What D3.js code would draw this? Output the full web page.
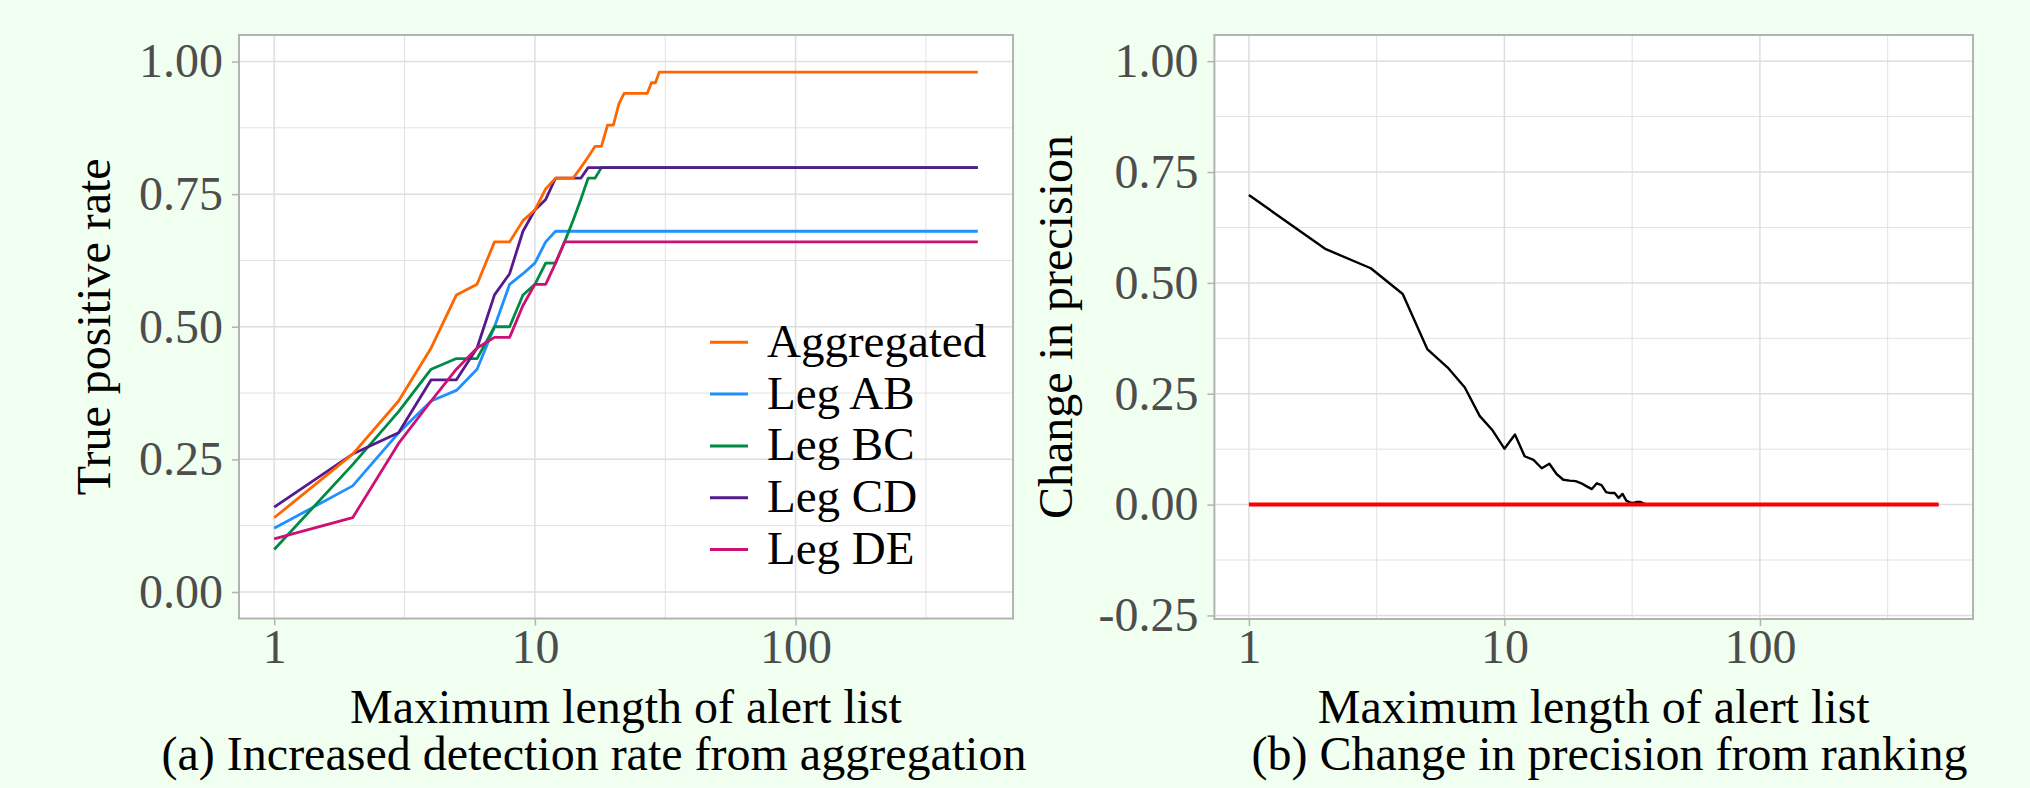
<!DOCTYPE html>
<html>
<head>
  <meta charset="utf-8">
  <script src="https://d3js.org/d3.v7.min.js"></script>
  <style>
    body { margin: 0; background: #f0fff0; }
    svg { display: block; font-family: "Liberation Serif", "Times New Roman", serif; }
  </style>
</head>
<body>
  <svg id="chart"></svg>
  <script>
    // panel (a): true positive rate by maximum alert list length (x = 1..30, then 500)
    var alertLengthA = [1, 2, 3, 4, 5, 6, 7, 8, 9, 10, 11, 12, 13, 14, 15, 16, 17, 18, 19, 20,
                        21, 22, 23, 24, 25, 26, 27, 28, 29, 30, 500];
    var aggregated = [.14, .26, .36, .46, .56, .58, .66, .66, .70, .72, .76, .78, .78, .78, .80, .82, .84, .84, .88, .88,
                      .92, .94, .94, .94, .94, .94, .94, .96, .96, .98, .98];
    var legAB = [.12, .20, .30, .36, .38, .42, .50, .58, .60, .62, .66, .68, .68, .68, .68, .68, .68, .68, .68, .68,
                 .68, .68, .68, .68, .68, .68, .68, .68, .68, .68, .68];
    var legBC = [.08, .24, .34, .42, .44, .44, .50, .50, .56, .58, .62, .62, .66, .70, .74, .78, .78, .80, .80, .80,
                 .80, .80, .80, .80, .80, .80, .80, .80, .80, .80, .80];
    var legCD = [.16, .26, .30, .40, .40, .46, .56, .60, .68, .72, .74, .78, .78, .78, .78, .80, .80, .80, .80, .80,
                 .80, .80, .80, .80, .80, .80, .80, .80, .80, .80, .80];
    var legDE = [.10, .14, .28, .36, .42, .46, .48, .48, .54, .58, .58, .62, .66, .66, .66, .66, .66, .66, .66, .66,
                 .66, .66, .66, .66, .66, .66, .66, .66, .66, .66, .66];
    var seriesNames = ["Aggregated", "Leg AB", "Leg BC", "Leg CD", "Leg DE"];
    var seriesColors = ["#ff6600", "#1e90ff", "#008b45", "#551a8b", "#cd1076"];
    // drawing order: legs first, Aggregated on top
    var drawOrder = [1, 2, 3, 4, 0];

    // panel (b): change in precision (x = 1..36, then 500)
    var alertLengthB = [1, 2, 3, 4, 5, 6, 7, 8, 9, 10, 11, 12, 13, 14, 15, 16, 17, 18, 19, 20,
                        21, 22, 23, 24, 25, 26, 27, 28, 29, 30, 31, 32, 33, 34, 35, 36, 500];
    var precisionChange = [.698, .576, .533, .475, .350, .309, .264, .200, .167, .126,
                           .158, .109, .101, .082, .092, .069, .056, .054, .053, .048,
                           .041, .035, .048, .044, .028, .026, .026, .015, .024, .009,
                           .005, .004, .006, .006, .003, 0, 0];
    var zeroLineX = [1, 500];
    var zeroLineY = [0, 0];

    var xTicks = [1, 10, 100];
    var xMinor = [Math.sqrt(10), Math.sqrt(1000), Math.sqrt(100000)];
    var yTicksA = [0, 0.25, 0.5, 0.75, 1];
    var yMinorA = [0.125, 0.375, 0.625, 0.875];
    var yTicksB = [-0.25, 0, 0.25, 0.5, 0.75, 1];
    var yMinorB = [-0.125, 0.125, 0.375, 0.625, 0.875];

    var width = 2030, height = 788;
    var svg = d3.select("#chart").attr("width", width).attr("height", height);
    var xDomain = [Math.pow(10, -0.135), Math.pow(10, 2.834)];

    function drawPanel(p) {
      var x = d3.scaleLog().domain(xDomain).range([p.left, p.right]);
      var y = d3.scaleLinear().domain(p.yDomain).range([p.bottom, p.top]);
      var g = svg.append("g");

      g.append("rect")
        .attr("x", p.left).attr("y", p.top)
        .attr("width", p.right - p.left).attr("height", p.bottom - p.top)
        .attr("fill", "white");

      // grid lines
      g.selectAll(".ymin").data(p.yMinor).enter().append("line")
        .attr("x1", p.left).attr("x2", p.right)
        .attr("y1", function(d) { return y(d); }).attr("y2", function(d) { return y(d); })
        .attr("stroke", "#e2e2e2").attr("stroke-width", 1);
      g.selectAll(".xmin").data(xMinor).enter().append("line")
        .attr("y1", p.top).attr("y2", p.bottom)
        .attr("x1", function(d) { return x(d); }).attr("x2", function(d) { return x(d); })
        .attr("stroke", "#e2e2e2").attr("stroke-width", 1);
      g.selectAll(".ymaj").data(p.yTicks).enter().append("line")
        .attr("x1", p.left).attr("x2", p.right)
        .attr("y1", function(d) { return y(d); }).attr("y2", function(d) { return y(d); })
        .attr("stroke", "#dedede").attr("stroke-width", 1.5);
      g.selectAll(".xmaj").data(xTicks).enter().append("line")
        .attr("y1", p.top).attr("y2", p.bottom)
        .attr("x1", function(d) { return x(d); }).attr("x2", function(d) { return x(d); })
        .attr("stroke", "#dedede").attr("stroke-width", 1.5);

      // axes
      var yAxis = g.append("g")
        .attr("transform", "translate(" + p.left + ",0)")
        .call(d3.axisLeft(y).tickValues(p.yTicks).tickSize(7).tickPadding(9)
          .tickFormat(function(d) { return d.toFixed(2); }));
      var xAxis = g.append("g")
        .attr("transform", "translate(0," + p.bottom + ")")
        .call(d3.axisBottom(x).tickValues(xTicks).tickSize(7).tickPadding(3)
          .tickFormat(d3.format("d")));
      [yAxis, xAxis].forEach(function(a) {
        a.select(".domain").remove();
        a.selectAll("line").attr("stroke", "#b3b3b3").attr("stroke-width", 1.5);
        a.selectAll("text").attr("fill", "#4d4d4d").attr("font-size", 48)
          .attr("font-family", "Liberation Serif");
      });

      // titles
      svg.append("text")
        .attr("x", (p.left + p.right) / 2).attr("y", 723)
        .attr("text-anchor", "middle").attr("font-size", 48)
        .text("Maximum length of alert list");
      svg.append("text")
        .attr("x", p.captionX).attr("y", 770)
        .attr("text-anchor", "middle").attr("font-size", 48)
        .text(p.caption);
      svg.append("text")
        .attr("transform", "translate(" + p.titleX + "," + (p.top + p.bottom) / 2 + ") rotate(-90)")
        .attr("text-anchor", "middle").attr("font-size", 48)
        .text(p.yTitle);

      return { x: x, y: y, g: g, p: p };
    }

    function border(panel) {
      var p = panel.p;
      panel.g.append("rect")
        .attr("x", p.left).attr("y", p.top)
        .attr("width", p.right - p.left).attr("height", p.bottom - p.top)
        .attr("fill", "none").attr("stroke", "#b3b3b3").attr("stroke-width", 2);
    }

    // ---- panel (a)
    var a = drawPanel({
      left: 239, right: 1013, top: 35, bottom: 618.5,
      yDomain: [-0.05, 1.05], yTicks: yTicksA, yMinor: yMinorA,
      titleX: 110, yTitle: "True positive rate",
      captionX: 594, caption: "(a) Increased detection rate from aggregation"
    });
    var lineA = d3.line()
      .x(function(d) { return a.x(d[0]); })
      .y(function(d) { return a.y(d[1]); });
    var seriesA = [aggregated, legAB, legBC, legCD, legDE];
    drawOrder.forEach(function(i) {
      var pts = alertLengthA.map(function(v, j) { return [v, seriesA[i][j]]; });
      a.g.append("path").datum(pts)
        .attr("d", lineA)
        .attr("fill", "none")
        .attr("stroke", seriesColors[i])
        .attr("stroke-width", 2.8)
        .attr("stroke-linejoin", "round");
    });
    border(a);

    // legend
    var legend = a.g.append("g");
    seriesNames.forEach(function(name, i) {
      var ky = 342.3 + i * 51.8;
      legend.append("line")
        .attr("x1", 710).attr("x2", 748).attr("y1", ky).attr("y2", ky)
        .attr("stroke", seriesColors[i]).attr("stroke-width", 3);
      legend.append("text")
        .attr("x", 767).attr("y", ky + 14.5)
        .attr("font-size", 47).attr("fill", "black")
        .text(name);
    });

    // ---- panel (b)
    var b = drawPanel({
      left: 1214.4, right: 1973, top: 35, bottom: 619,
      yDomain: [-0.258, 1.059], yTicks: yTicksB, yMinor: yMinorB,
      titleX: 1072, yTitle: "Change in precision",
      captionX: 1609.5, caption: "(b) Change in precision from ranking"
    });
    var lineB = d3.line()
      .x(function(d) { return b.x(d[0]); })
      .y(function(d) { return b.y(d[1]); });
    b.g.append("path")
      .datum(alertLengthB.map(function(v, j) { return [v, precisionChange[j]]; }))
      .attr("d", lineB)
      .attr("fill", "none").attr("stroke", "black")
      .attr("stroke-width", 2.4).attr("stroke-linejoin", "round");
    b.g.append("path")
      .datum(zeroLineX.map(function(v, j) { return [v, zeroLineY[j]]; }))
      .attr("d", lineB)
      .attr("fill", "none").attr("stroke", "#ff0000")
      .attr("stroke-width", 4);
    border(b);
  </script>
</body>
</html>
